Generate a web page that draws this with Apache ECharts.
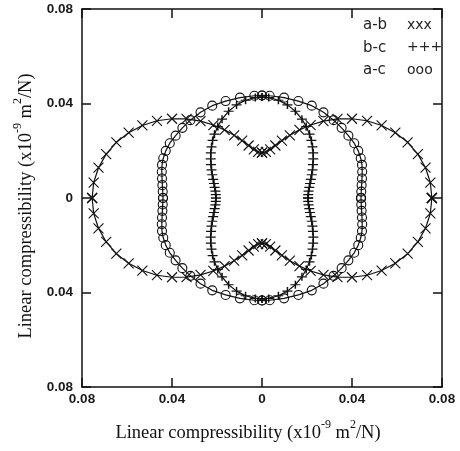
<!DOCTYPE html>
<html>
<head>
<meta charset="utf-8">
<script src="https://cdn.jsdelivr.net/npm/echarts@6/dist/echarts.min.js"></script>
<style>
  html, body { margin: 0; padding: 0; background: #fff; }
  #chart { width: 460px; height: 451px; }
</style>
</head>
<body>
<div id="chart"></div>
<script>
// first-quadrant directions (deg) and radii, x10^-9 m2/N
// the curves are symmetric, the other quadrants are mirrored below
var abAngles = [0, 5, 10, 15, 20, 25, 30, 35, 40, 45, 50, 55, 60, 65, 70, 75, 80, 85, 90];
var abRadii = [0.0755, 0.0751, 0.0738, 0.0717, 0.0689, 0.0654, 0.0614, 0.0570, 0.0522, 0.0474,
  0.0425, 0.0377, 0.0333, 0.0293, 0.0258, 0.0230, 0.0209, 0.0196, 0.0192];

var bcAngles = [0, 4, 8, 12, 16, 20, 24, 28, 32, 36, 40, 44, 48, 52, 57, 62, 68, 74, 80, 86, 90];
var bcRadii = [0.0205, 0.0206, 0.0209, 0.0215, 0.0222, 0.0231, 0.0242, 0.0254, 0.0267, 0.0282,
  0.0297, 0.0312, 0.0328, 0.0343, 0.0361, 0.0378, 0.0396, 0.0410, 0.0420, 0.0426, 0.0427];

var acAngles = [0, 3.5, 7, 10.5, 14, 17.5, 21, 25, 29.5, 34.5, 40, 46, 53, 60.5, 68.5, 77, 85.5, 90];
var acRadii = [0.0440, 0.0442, 0.0446, 0.0452, 0.0459, 0.0466, 0.0470, 0.0472, 0.0471, 0.0466,
  0.0462, 0.0458, 0.0454, 0.0449, 0.0441, 0.0436, 0.0434, 0.0434];

var axisTicks = [-0.08, -0.04, 0, 0.04, 0.08];
var legendNames = ['a-b', 'b-c', 'a-c'];
var legendMarks = ['xxx', '+++', 'ooo'];

function closedCurve(angles, radii) {
  var seq = [];
  var n = angles.length, i;
  for (i = 0; i < n; i++) seq.push([angles[i], radii[i]]);
  for (i = n - 1; i >= 0; i--) seq.push([180 - angles[i], radii[i]]);
  for (i = 0; i < n; i++) seq.push([180 + angles[i], radii[i]]);
  for (i = n - 1; i >= 0; i--) seq.push([360 - angles[i], radii[i]]);
  var pts = seq.map(function (p) {
    var t = p[0] * Math.PI / 180;
    return [+(p[1] * Math.cos(t)).toFixed(5), +(p[1] * Math.sin(t)).toFixed(5)];
  });
  pts.push(pts[0]);
  return pts;
}

var ink = '#111';
var tickFmt = function (v) {
  return Math.abs(v) < 1e-9 ? '0' : Math.abs(v).toFixed(2);
};
var axisName = '{t|Linear compressibility (x10}{s|-9}{t| m}{s|2}{t|/N)}';
var nameRich = {
  t: { fontFamily: 'Liberation Serif', fontSize: 18.5, lineHeight: 28, color: ink },
  s: { fontFamily: 'Liberation Serif', fontSize: 12, lineHeight: 10, verticalAlign: 'top', color: ink }
};

function baseAxis(extra) {
  var a = {
    type: 'value',
    min: axisTicks[0],
    max: axisTicks[axisTicks.length - 1],
    interval: 0.04,
    axisLine: { show: true, onZero: false, lineStyle: { color: ink, width: 1.5 } },
    axisTick: { show: true, inside: true, length: 9, lineStyle: { color: ink, width: 1.5 } },
    splitLine: { show: false },
    axisLabel: { show: false }
  };
  for (var k in extra) a[k] = extra[k];
  return a;
}

var labelStyle = {
  show: true, formatter: tickFmt, color: '#1a1a1a',
  fontFamily: 'Liberation Sans', fontSize: 13.5, fontWeight: 'bold'
};

var myChart = echarts.init(document.getElementById('chart'));
var option = {
  backgroundColor: '#fff',
  animation: false,
  grid: { left: 82, top: 9, width: 360, height: 378 },
  xAxis: [
    baseAxis({
      position: 'bottom',
      axisLabel: Object.assign({ margin: 5 }, labelStyle),
      name: axisName,
      nameLocation: 'middle',
      nameGap: 32,
      nameTextStyle: { rich: nameRich, padding: [0, 28, 0, 0] }
    }),
    baseAxis({ position: 'top' })
  ],
  yAxis: [
    baseAxis({
      position: 'left',
      axisLabel: Object.assign({ margin: 9 }, labelStyle),
      name: axisName,
      nameLocation: 'middle',
      nameGap: 31,
      nameTextStyle: { rich: nameRich, padding: [0, 16, 0, 0] }
    }),
    baseAxis({ position: 'right' })
  ],
  graphic: legendNames.map(function (name, i) {
    return {
      type: 'group',
      left: 363,
      top: 18 + i * 22.5,
      children: [
        { type: 'text', x: 0, y: 0, style: { text: name, fill: '#222', font: '15px "DejaVu Sans"' } },
        { type: 'text', x: 44, y: 0, style: { text: legendMarks[i], fill: '#222', font: '14px "DejaVu Sans"' } }
      ]
    };
  }),
  series: [
    {
      name: 'a-b',
      type: 'line',
      data: closedCurve(abAngles, abRadii),
      symbol: 'path://M0,0L10,10M10,0L0,10',
      symbolSize: 10,
      showAllSymbol: true,
      lineStyle: { color: ink, width: 1.2 },
      itemStyle: { color: 'rgba(0,0,0,0)', borderColor: ink, borderWidth: 1.1 }
    },
    {
      name: 'b-c',
      type: 'line',
      data: closedCurve(bcAngles, bcRadii),
      symbol: 'path://M0,5L10,5M5,0L5,10',
      symbolSize: [10, 8],
      showAllSymbol: true,
      lineStyle: { color: ink, width: 1.2 },
      itemStyle: { color: 'rgba(0,0,0,0)', borderColor: ink, borderWidth: 1.3 }
    },
    {
      name: 'a-c',
      type: 'line',
      data: closedCurve(acAngles, acRadii),
      symbol: 'circle',
      symbolSize: 9,
      showAllSymbol: true,
      lineStyle: { color: ink, width: 1.2 },
      itemStyle: { color: 'rgba(0,0,0,0)', borderColor: ink, borderWidth: 1.1 }
    }
  ]
};
myChart.setOption(option);
</script>
</body>
</html>
